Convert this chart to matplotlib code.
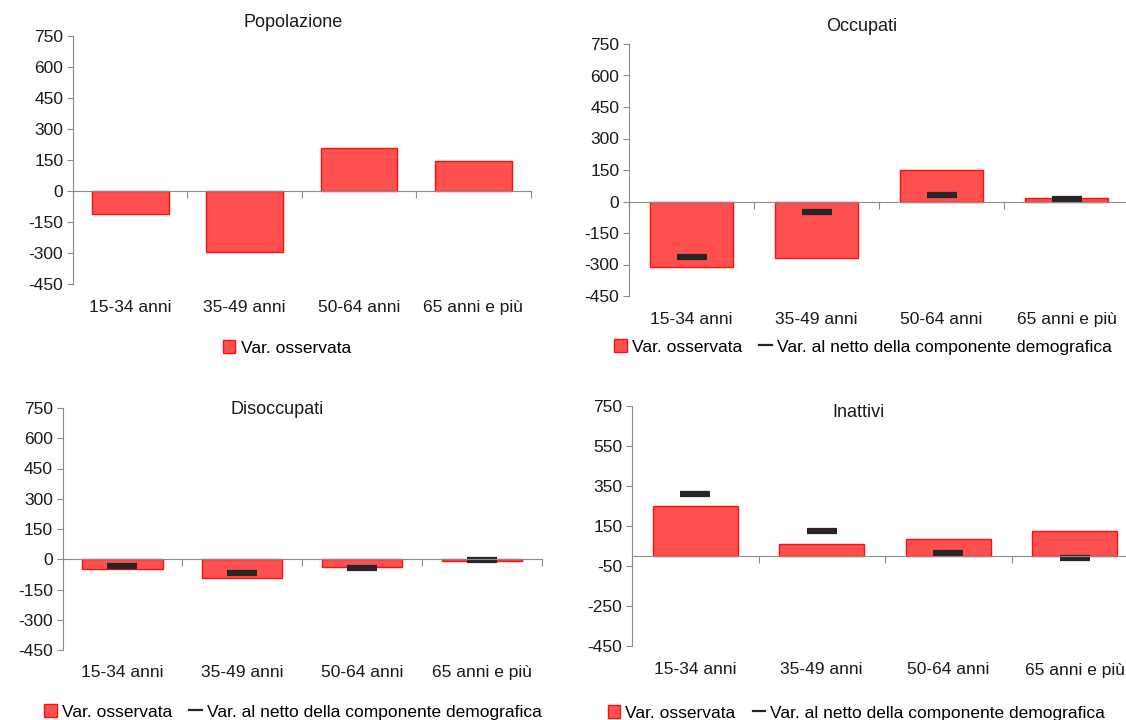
import matplotlib.pyplot as plt
import numpy as np
from matplotlib.lines import Line2D
from matplotlib.transforms import blended_transform_factory

plt.rcParams['font.family'] = ['Liberation Sans Narrow', 'Liberation Sans', 'DejaVu Sans']

# Dati (migliaia)
categorie = ["15-34 anni", "35-49 anni", "50-64 anni", "65 anni e più"]

pop_oss = [-111, -297, 206, 145]

occ_oss = [-314, -268, 152, 19]
occ_netto = [-265, -48, 30, 12]

dis_oss = [-48, -94, -38, -7]
dis_netto = [-31, -69, -43, -2]

ina_oss = [249, 61, 86, 125]
ina_netto = [308, 124, 16, -8]

tick_std = [750, 600, 450, 300, 150, 0, -150, -300, -450]
tick_ina = [750, 550, 350, 150, -50, -250, -450]

ROSSO = "#FF5050"
BORDO = "#FF1010"
NERO = "#262626"
GRIGIO = "#8c8c8c"

fig = plt.figure(figsize=(11.26, 7.2), dpi=100)

pannelli = [
    # titolo, oss, netto, ticks, rect, pos titolo, pos legenda
    ("Popolazione", pop_oss, None, tick_std,
     [73 / 1126, 1 - 284 / 720, 457.5 / 1126, 248 / 720], (0.481, 1.056), (0.468, -0.258)),
    ("Occupati", occ_oss, occ_netto, tick_std,
     [629 / 1126, 1 - 296 / 720, 500 / 1126, 252 / 720], (0.466, 1.071), (0.468, -0.202)),
    ("Disoccupati", dis_oss, dis_netto, tick_std,
     [62.6 / 1126, 1 - 650 / 720, 479 / 1126, 242 / 720], (0.447, 0.992), (0.481, -0.256)),
    ("Inattivi", ina_oss, ina_netto, tick_ina,
     [632 / 1126, 1 - 646 / 720, 506 / 1126, 240 / 720], (0.447, 0.971), (0.443, -0.279)),
]

x = np.arange(len(categorie))

for titolo, oss, netto, ticks, rect, tpos, lpos in pannelli:
    ax = fig.add_axes(rect)
    barre = ax.bar(x, oss, width=0.67, color=ROSSO, edgecolor=BORDO, linewidth=1,
                   zorder=2)
    handles = [barre]
    labels = ["Var. osservata"]
    if netto is not None:
        ax.plot(x, netto, linestyle="none", marker="_", markersize=21,
                markeredgewidth=4.5, color=NERO, zorder=3)
        handles.append(Line2D([], [], color=NERO, linewidth=1.6))
        labels.append("Var. al netto della componente demografica")

    ax.set_xlim(-0.5, len(categorie) - 0.5)
    ax.set_ylim(-450, 750)
    ax.set_yticks(ticks)
    ax.set_yticklabels([str(t) for t in ticks], fontsize=12.5, color="#1a1a1a")

    # asse x sullo zero, tacche tra le categorie
    ax.spines["bottom"].set_position(("data", 0))
    ax.spines["top"].set_visible(False)
    ax.spines["right"].set_visible(False)
    ax.spines["left"].set_color(GRIGIO)
    ax.spines["bottom"].set_color(GRIGIO)
    ax.spines["bottom"].set_zorder(4)
    ax.set_xticks(np.arange(len(categorie) + 1) - 0.5)
    ax.set_xticklabels([])
    ax.tick_params(axis="x", direction="out", length=5, color=GRIGIO)
    ax.tick_params(axis="y", direction="out", length=4, color=GRIGIO, pad=3)

    trans = blended_transform_factory(ax.transData, ax.transAxes)
    ypos = -0.095 if titolo != "Inattivi" else -0.1
    for xi, c in zip(x, categorie):
        ax.text(xi, ypos, c, transform=trans, ha="center", va="center",
                fontsize=12.5, color="#1a1a1a")

    ax.text(tpos[0], tpos[1], titolo, transform=ax.transAxes, ha="center",
            va="center", fontsize=13, color="#1a1a1a")

    ax.legend(handles, labels, loc="center", bbox_to_anchor=lpos, ncol=2,
              frameon=False, fontsize=12.5, handlelength=0.7, handleheight=0.8,
              handletextpad=0.3, columnspacing=1.0, borderaxespad=0)

fig.savefig("out.png", dpi=100)
